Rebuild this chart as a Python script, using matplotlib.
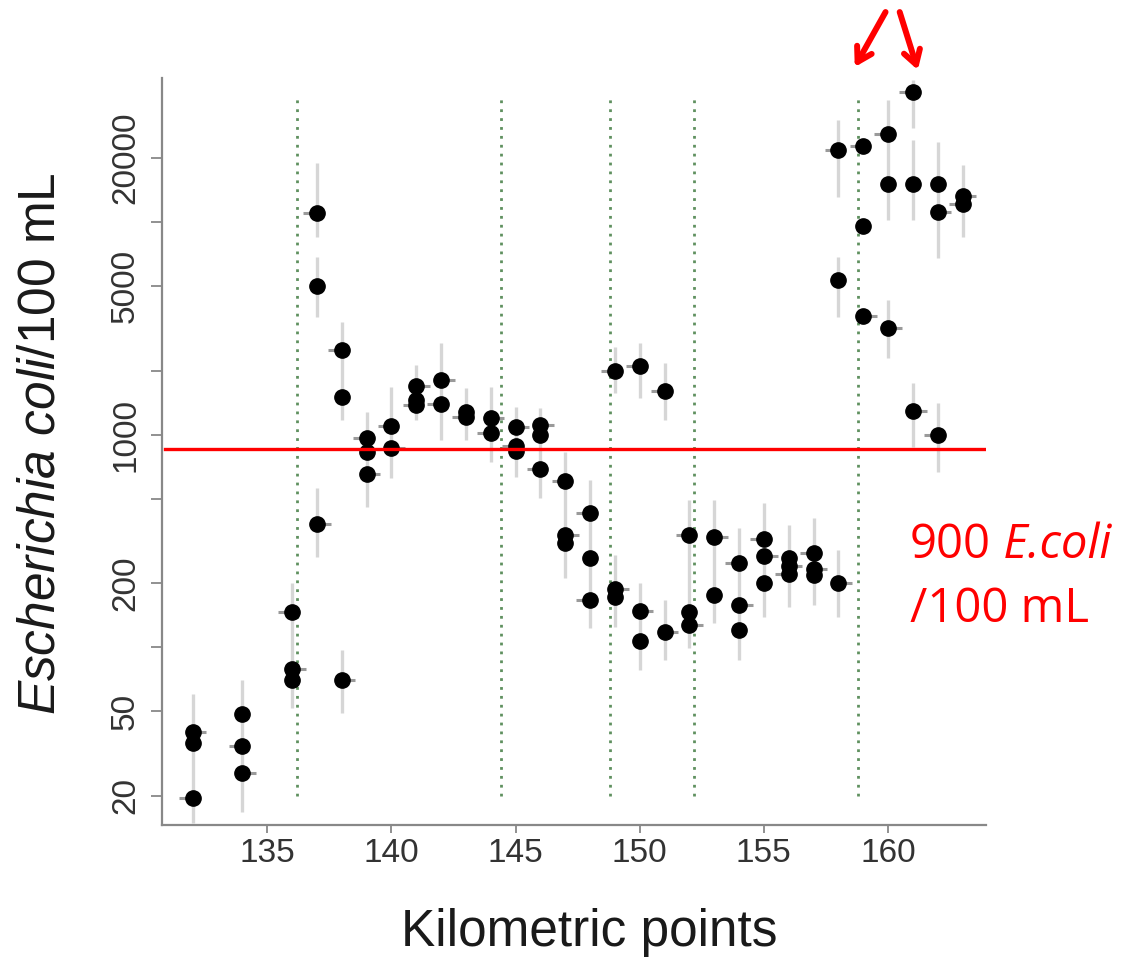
import numpy as np
import matplotlib
matplotlib.use("Agg")
import matplotlib.pyplot as plt

plt.rcParams['font.family'] = ['Liberation Sans', 'DejaVu Sans']
plt.rcParams['mathtext.fontset'] = 'custom'
plt.rcParams['mathtext.rm'] = 'Liberation Sans'
plt.rcParams['mathtext.it'] = 'Liberation Sans:italic'

# E. coli counts per sampling point (km)
km = [132, 132, 132, 134, 134, 134, 136, 136, 136, 137, 137, 137,
      138, 138, 138, 139, 139, 139, 140, 140, 141, 141, 141, 142, 142,
      143, 143, 144, 144, 145, 145, 145, 146, 146, 146, 147, 147, 147,
      148, 148, 148, 149, 149, 149, 150, 150, 150, 151, 151,
      152, 152, 152, 153, 153, 154, 154, 154, 155, 155, 155,
      156, 156, 156, 157, 157, 157, 158, 158, 158, 159, 159, 159,
      160, 160, 160, 161, 161, 161, 162, 162, 162, 163, 163]
ecoli = [40, 35.6, 19.5, 48.6, 34.4, 25.6, 147, 79, 70, 11000, 5000, 380,
         2500, 1500, 70, 960, 830, 650, 1100, 862, 1700, 1450, 1380, 1800, 1390,
         1280, 1206, 1200, 1014, 1089, 880, 840, 1110, 996, 687, 607, 337, 308,
         430, 262, 167, 1990, 187, 173, 2100, 148, 107, 1600, 118,
         337, 147, 127, 331, 176, 248, 158, 120, 322, 269, 200,
         262, 241, 220, 279, 233, 219, 21900, 5330, 201, 22700, 9560, 3610,
         25900, 15000, 3180, 41000, 15000, 1296, 15000, 11100, 997, 13240, 12140]
# side of the short horizontal tick next to each point (-1 left, 1 right, 0 none)
tail = [1, 0, -1, 0, -1, 1, -1, 1, 0, -1, 0, 1,
        -1, 0, 1, -1, 0, 1, -1, 1, 1, 0, -1, 1, -1,
        0, -1, 1, -1, 1, -1, 0, 1, 0, -1, -1, 1, 0,
        -1, 0, -1, -1, 1, 0, -1, 1, 0, -1, 1,
        -1, 0, 1, 1, 0, -1, 1, 0, -1, 1, 0,
        0, 1, -1, -1, 1, 0, -1, 0, 1, -1, 0, 1,
        -1, 0, 1, -1, 0, 1, 0, 1, -1, 1, -1]

# vertical uncertainty bars (km, low, high)
bar_km = [132, 134, 136, 137, 137, 137, 138, 138, 139, 140, 141, 142, 143,
          144, 145, 146, 147, 148, 149, 149, 150, 150, 151, 151, 152, 153,
          154, 155, 156, 157, 158, 158, 158, 160, 160, 161, 161, 161, 162,
          162, 163]
bar_lo = [15, 16.8, 52, 266, 3570, 8500, 49, 1172, 457, 625, 1172, 944, 944,
          743, 632, 504, 212, 123, 125, 1570, 78, 1490, 87, 1172, 99, 130,
          87, 139, 155, 158, 139, 3570, 13100, 10200, 2290, 27600, 10200, 875, 6770,
          667, 8500]
bar_hi = [60, 70, 200, 561, 6850, 18900, 97, 3380, 1277, 1675, 2125, 2697, 1665,
          1675, 1349, 1335, 828, 612, 272, 2580, 200, 2697, 167, 2170, 493, 493,
          364, 477, 376, 406, 287, 6840, 30100, 37400, 4300, 46500, 24300, 1750, 23800,
          1407, 18500]

# river section limits (km) and the bathing threshold line (drawn level)
section_km = [136.2, 144.4, 148.8, 152.2, 158.8]
threshold = 860

yticks = [20, 50, 100, 200, 500, 1000, 2000, 5000, 10000, 20000]
yticklabels = ['20', '50', '', '200', '', '1000', '', '5000', '', '20000']
xticks = [135, 140, 145, 150, 155, 160]

fig = plt.figure(figsize=(11.24, 9.63), dpi=100)
ax = fig.add_axes([0.1441, 0.1433, 0.733, 0.7757])

ax.set_yscale('log')
ax.set_xlim(130.76, 163.94)
ax.set_ylim(14.6, 47500)

# grey vertical bars
ax.vlines(bar_km, bar_lo, bar_hi, color='#d6d6d6', lw=2.4, zorder=1)

# short grey ticks beside points
km_a = np.array(km, dtype=float)
t_a = np.array(tail)
sel = t_a != 0
ax.hlines(np.array(ecoli)[sel], km_a[sel], km_a[sel] + 0.55 * t_a[sel],
          color='#9a9a9a', lw=2.2, zorder=2)

# section limits
ax.vlines(section_km, 20, 40000, color='#5f905f', lw=2.0,
          linestyles=(0, (1, 2.2)), zorder=1.5)

ax.plot(km, ecoli, 'o', color='black', ms=11, zorder=3)

ax.axhline(threshold, xmin=0.004, color='red', lw=2.4, zorder=4)

ax.set_yticks(yticks)
ax.set_yticklabels(yticklabels)
ax.yaxis.set_minor_locator(matplotlib.ticker.NullLocator())
ax.set_xticks(xticks)
ax.tick_params(axis='y', labelrotation=90, length=8, width=1.3, pad=7,
               colors='#888888', labelcolor='#333333', labelsize=24)
ax.tick_params(axis='x', length=6, width=1.3, pad=3.6,
               colors='#888888', labelcolor='#333333', labelsize=24)
for lab in ax.get_yticklabels():
    lab.set_va('center')

for s in ['top', 'right']:
    ax.spines[s].set_visible(False)
for s in ['left', 'bottom']:
    ax.spines[s].set_color('#888888')
    ax.spines[s].set_linewidth(1.6)

ax.set_ylabel(r'$\mathit{Escherichia\ coli}$/100 mL', fontsize=37, color='#1a1a1a')
ax.yaxis.set_label_coords(-0.1165, 0.51)
ax.set_xlabel('Kilometric points', fontsize=37, color='#1a1a1a')
ax.xaxis.set_label_coords(0.519, -0.111)

# threshold annotation
t1 = fig.text(0.8096, 0.4206, '900', color='red', fontsize=34,
              family='Open Sans', va='baseline', ha='left')
ax.annotate(' E.coli', xy=(1, 0), xycoords=t1, va='bottom', ha='left',
            color='red', fontsize=34, family='Open Sans', style='italic',
            annotation_clip=False)
fig.text(0.8096, 0.3541, '/100 mL', color='red', fontsize=34,
         family='Open Sans', va='baseline', ha='left')

# arrows pointing at the last section limit and the highest value
arrow = dict(arrowstyle='->,head_length=1.0,head_width=0.6', color='red',
             lw=4.3, shrinkA=0, shrinkB=0)
ax.annotate('', xy=(158.66, 53500), xytext=(159.9, 97000),
            arrowprops=arrow, annotation_clip=False)
ax.annotate('', xy=(161.2, 51800), xytext=(160.47, 97000),
            arrowprops=arrow, annotation_clip=False)

fig.savefig('out.png', dpi=100)
